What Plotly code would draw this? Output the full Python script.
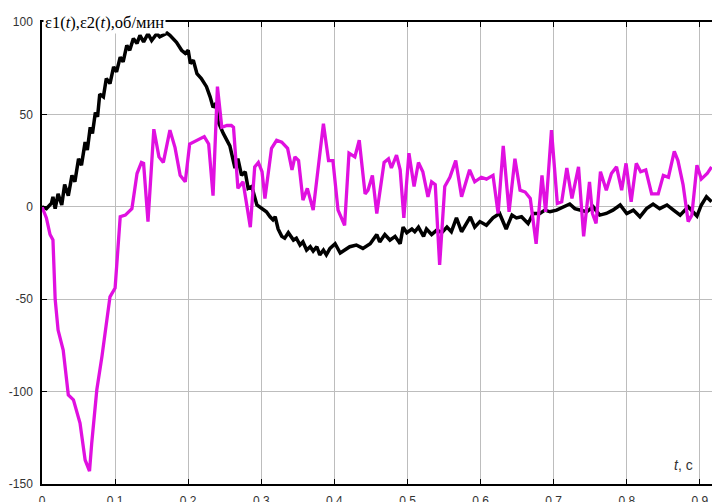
import plotly.graph_objects as go

t1 = [0, 0.006, 0.013, 0.015, 0.018, 0.022, 0.027, 0.031, 0.036, 0.041, 0.045, 0.050, 0.054, 0.059, 0.062,
      0.066, 0.069, 0.073, 0.076, 0.079, 0.084, 0.088, 0.093, 0.098, 0.102, 0.107, 0.111, 0.116, 0.120, 0.125,
      0.130, 0.134, 0.139, 0.145, 0.150, 0.157, 0.161, 0.171, 0.175, 0.180, 0.184, 0.191, 0.196, 0.200, 0.203,
      0.207, 0.212, 0.218, 0.225, 0.230, 0.234, 0.238, 0.241, 0.248, 0.257, 0.264, 0.268, 0.273, 0.278, 0.282,
      0.287, 0.294, 0.301, 0.307, 0.312, 0.316, 0.319, 0.323, 0.328, 0.332, 0.337, 0.344, 0.348, 0.353, 0.357,
      0.362, 0.367, 0.371, 0.376, 0.380, 0.385, 0.389, 0.394, 0.401, 0.408, 0.415, 0.421, 0.430, 0.439, 0.449,
      0.458, 0.462, 0.469, 0.476, 0.483, 0.490, 0.494, 0.499, 0.506, 0.510, 0.515, 0.522, 0.526, 0.533, 0.540,
      0.547, 0.554, 0.560, 0.567, 0.574, 0.581, 0.586, 0.592, 0.599, 0.608, 0.617, 0.626, 0.635, 0.643, 0.649,
      0.656, 0.665, 0.672, 0.681, 0.688, 0.695, 0.704, 0.713, 0.722, 0.729, 0.738, 0.745, 0.754, 0.763, 0.772,
      0.781, 0.791, 0.800, 0.809, 0.818, 0.827, 0.836, 0.845, 0.855, 0.864, 0.873, 0.884, 0.896, 0.902, 0.909,
      0.916]
e1 = [0, -1, 2, 5.4, -1, 7, 1, 12, 6, 17, 13.5, 26, 22.5, 35, 30.7,
      43, 39.7, 51, 48.7, 61, 59.5, 69.4, 66.7, 75.7, 73, 81, 78.4, 87.4, 84.7, 91,
      88.4, 92.8, 89.2, 93.7, 90, 93.7, 92, 94, 92.8, 90.5, 89, 84.7, 83, 84.7, 77.5,
      79.3, 72, 69.4, 65, 59.5, 53.8, 56, 46, 39.7, 33, 21, 26, 17, 19, 10,
      11, 1, -1, -2.7, -5.4, -7, -5.4, -12, -16, -17, -14, -18, -17, -20.7, -19,
      -23.4, -21.6, -24, -21.6, -26, -23.4, -26, -22.5, -20, -25, -23.4, -21.6, -20.7, -22.5, -20,
      -15, -19, -15, -18, -16, -20, -11, -14, -12, -13.5, -11, -16, -12, -15, -12.6,
      -14, -11, -13.5, -6, -13.5, -9, -5.5, -11, -8, -10, -6, -3.6, -12, -4.5, -6,
      -5.4, -9, -3.6, -3.6, -1.8, -2.7, -1.8, 0, 1.5, -1, -1.8, -2.7, 0, -4.5, -3.6,
      -1.8, 1, -3.6, -1.8, -5.4, -1, 1.5, -1, 1, -1.8, -4.5, 0, -5, 1, 5.4,
      2.7]

t2 = [0, 0.006, 0.011, 0.015, 0.018, 0.022, 0.029, 0.036, 0.043, 0.052, 0.059, 0.065, 0.068, 0.075, 0.082,
      0.093, 0.100, 0.107, 0.114, 0.123, 0.130, 0.136, 0.139, 0.145, 0.153, 0.160, 0.166, 0.175, 0.182, 0.189,
      0.196, 0.202, 0.222, 0.228, 0.234, 0.240, 0.246, 0.253, 0.259, 0.262, 0.268, 0.275, 0.285, 0.291, 0.296,
      0.301, 0.305, 0.314, 0.321, 0.328, 0.336, 0.342, 0.346, 0.351, 0.357, 0.363, 0.371, 0.378, 0.385, 0.392,
      0.398, 0.405, 0.414, 0.420, 0.428, 0.434, 0.442, 0.446, 0.452, 0.458, 0.468, 0.474, 0.478, 0.485, 0.490,
      0.495, 0.502, 0.509, 0.515, 0.521, 0.528, 0.533, 0.538, 0.544, 0.551, 0.558, 0.566, 0.574, 0.585, 0.592,
      0.601, 0.608, 0.617, 0.624, 0.631, 0.639, 0.647, 0.654, 0.661, 0.668, 0.676, 0.684, 0.689, 0.697, 0.705,
      0.711, 0.718, 0.725, 0.734, 0.741, 0.749, 0.753, 0.758, 0.764, 0.772, 0.779, 0.786, 0.793, 0.799, 0.806,
      0.813, 0.819, 0.826, 0.834, 0.843, 0.850, 0.857, 0.865, 0.870, 0.877, 0.884, 0.889, 0.896, 0.902, 0.910,
      0.916]
e2 = [0, -6, -15, -18, -50, -66.7, -77.5, -101.8, -104.5, -117, -137, -143, -128, -99, -81,
      -48.7, -44, -5.4, -4.5, -1, 18, 24, 23.5, -8, 42, 27, 24, 41.5, 32, 17,
      13.5, 34, 38, 34, 6, 65, 43, 44, 44, 43, 10, 13.5, -11, 21.6, 24,
      19, 4.5, 31.6, 36, 35, 31.6, 20, 27, 25, 3.6, 10, -1.8, 20, 45, 25,
      25, -1.8, -10, 29, 27, 36, 7, 9, 17, -3.6, 24, 26, 21, 28, 20,
      -6, 29, 11, 24, 19, 5.4, 13.5, 12, -31.5, 11, 16, 25, 5.4, 20, 13.5,
      16, 15, 17, -3.6, 33, -2.7, 26, 9, 8, 4.5, -20, 17, -2.7, 41.5, 1.8,
      2.7, 21, 4.5, 21.6, -16, 13.5, -3.6, -9, 19, 9, 18, 21.6, 9, 23.5, 2.7,
      23.5, 19, 20, 7, 7, 17, 16, 30, 25, 12, -8, -4.5, 22.5, 15, 18,
      21.6]

x_ticks = [0, 0.1, 0.2, 0.3, 0.4, 0.5, 0.6, 0.7, 0.8, 0.9]
x_labels = ["0", "0.1", "0.2", "0.3", "0.4", "0.5", "0.6", "0.7", "0.8", "0.9"]
y_ticks = [-150, -100, -50, 0, 50, 100]
y_labels = ["-150", "-100", "-50", "0", "50", "100"]

fig = go.Figure()
fig.add_trace(go.Scatter(x=t1, y=e1, mode="lines", line=dict(color="black", width=3.5), name="ε1"))
fig.add_trace(go.Scatter(x=t2, y=e2, mode="lines", line=dict(color="#e010e0", width=3.3), name="ε2"))

fig.update_layout(
    width=712, height=502,
    margin=dict(l=42, r=0, t=22, b=18, autoexpand=False),
    paper_bgcolor="white", plot_bgcolor="white",
    showlegend=False,
    font=dict(family="Liberation Sans, Arial, sans-serif", size=12, color="#333"),
)
fig.update_xaxes(
    range=[0, 0.9166], tickvals=x_ticks, ticktext=x_labels, automargin=False,
    showgrid=True, gridcolor="#bdbdbd", gridwidth=1, zeroline=False,
    showline=True, linecolor="black", linewidth=1.5, mirror="ticks",
    ticks="inside", ticklen=5, tickcolor="black",
    tickfont=dict(size=12, color="#333"), ticklabelstandoff=5,
)
fig.update_yaxes(
    range=[-150, 100], tickvals=y_ticks, ticktext=y_labels, automargin=False,
    showgrid=True, gridcolor="#bdbdbd", gridwidth=1, zeroline=False,
    showline=True, linecolor="black", linewidth=1.5,
    ticks="inside", ticklen=5, tickcolor="black",
    tickfont=dict(size=12, color="#333"), ticklabelstandoff=5,
)

fig.add_annotation(
    text="ε1(<i>t</i>),ε2(<i>t</i>),об/мин", xref="paper", yref="y",
    x=0.002, y=100, xanchor="left", yanchor="middle", showarrow=False,
    font=dict(family="Liberation Serif, Times New Roman, serif", size=16.5, color="black"),
    bgcolor="white", borderpad=1,
)
fig.add_annotation(
    text="<i>t</i>, с", xref="x", yref="y",
    x=0.893, y=-139.8, xanchor="right", yanchor="middle", showarrow=False,
    font=dict(family="Liberation Sans, Arial, sans-serif", size=14, color="#333"),
)

fig.write_html(
    "out.html",
    config={"displayModeBar": False},
    post_script="document.body.style.margin='0';document.body.style.overflow='hidden';",
)
